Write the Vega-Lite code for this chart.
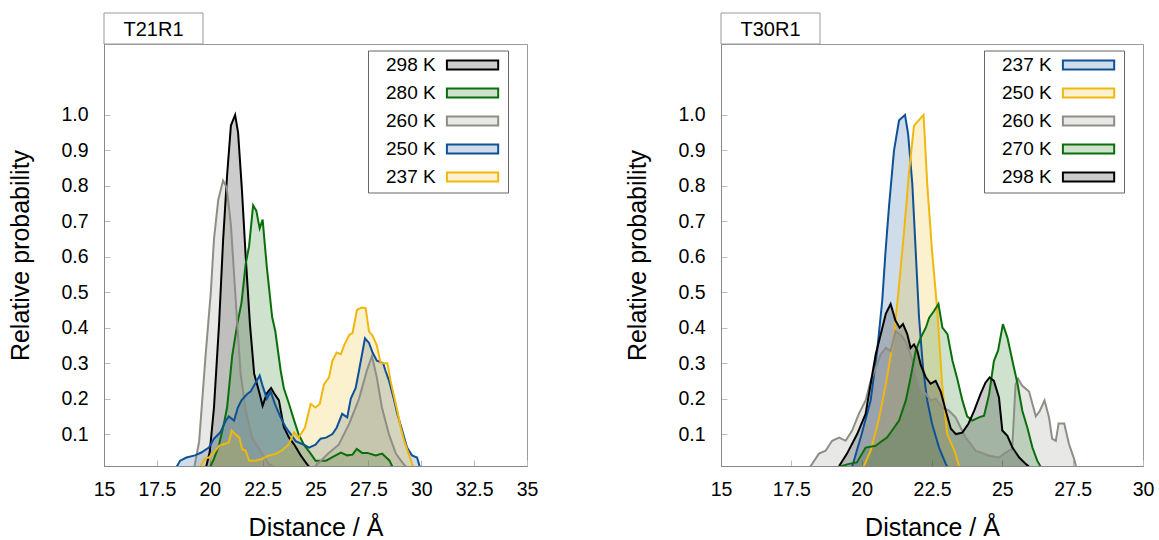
{
  "$schema": "https://vega.github.io/schema/vega-lite/v6.json",
  "background": "white",
  "padding": {"left": 8, "top": 12, "right": 5, "bottom": 5},
  "config": {
    "font": "Liberation Sans",
    "view": {"stroke": "#999999", "strokeWidth": 1},
    "axis": {"labelFontSize": 19.5, "titleFontSize": 25, "titleFontWeight": "normal", "labelColor": "#000000", "titleColor": "#000000", "domainColor": "#888888", "tickColor": "#bbbbbb", "tickSize": -6, "grid": false, "labelPadding": 22, "labelFlush": false},
    "axisX": {"labelPadding": 20, "titlePadding": 17},
    "axisY": {"titlePadding": 27},
    "text": {"font": "Liberation Sans"}
  },
  "datasets": {
    "left": [
      {"s":"298 K","x":19.8,"y":0},{"s":"298 K","x":20.0,"y":0.05},{"s":"298 K","x":20.2,"y":0.175},{"s":"298 K","x":20.44,"y":0.41},{"s":"298 K","x":20.63,"y":0.645},{"s":"298 K","x":20.82,"y":0.83},{"s":"298 K","x":21.0,"y":0.97},{"s":"298 K","x":21.2,"y":1.0},{"s":"298 K","x":21.34,"y":0.95},{"s":"298 K","x":21.52,"y":0.79},{"s":"298 K","x":21.7,"y":0.6},{"s":"298 K","x":21.9,"y":0.41},{"s":"298 K","x":22.1,"y":0.27},{"s":"298 K","x":22.33,"y":0.22},{"s":"298 K","x":22.5,"y":0.18},{"s":"298 K","x":22.7,"y":0.215},{"s":"298 K","x":22.9,"y":0.23},{"s":"298 K","x":23.04,"y":0.215},{"s":"298 K","x":23.27,"y":0.195},{"s":"298 K","x":23.5,"y":0.12},{"s":"298 K","x":23.75,"y":0.09},{"s":"298 K","x":24.0,"y":0.07},{"s":"298 K","x":24.3,"y":0.04},{"s":"298 K","x":24.6,"y":0.015},{"s":"298 K","x":24.8,"y":0},
      {"s":"280 K","x":19.96,"y":0},{"s":"280 K","x":20.2,"y":0.03},{"s":"280 K","x":20.44,"y":0.07},{"s":"280 K","x":20.67,"y":0.13},{"s":"280 K","x":20.82,"y":0.175},{"s":"280 K","x":21.06,"y":0.32},{"s":"280 K","x":21.3,"y":0.41},{"s":"280 K","x":21.5,"y":0.47},{"s":"280 K","x":21.7,"y":0.58},{"s":"280 K","x":21.86,"y":0.63},{"s":"280 K","x":22.05,"y":0.745},{"s":"280 K","x":22.2,"y":0.73},{"s":"280 K","x":22.36,"y":0.68},{"s":"280 K","x":22.5,"y":0.705},{"s":"280 K","x":22.7,"y":0.57},{"s":"280 K","x":22.95,"y":0.43},{"s":"280 K","x":23.1,"y":0.39},{"s":"280 K","x":23.35,"y":0.28},{"s":"280 K","x":23.5,"y":0.23},{"s":"280 K","x":23.75,"y":0.185},{"s":"280 K","x":23.98,"y":0.14},{"s":"280 K","x":24.2,"y":0.1},{"s":"280 K","x":24.45,"y":0.07},{"s":"280 K","x":24.77,"y":0.045},{"s":"280 K","x":25.0,"y":0.025},{"s":"280 K","x":25.5,"y":0.025},{"s":"280 K","x":25.8,"y":0.035},{"s":"280 K","x":26.2,"y":0.048},{"s":"280 K","x":26.5,"y":0.04},{"s":"280 K","x":26.75,"y":0.042},{"s":"280 K","x":26.95,"y":0.058},{"s":"280 K","x":27.2,"y":0.047},{"s":"280 K","x":27.45,"y":0.047},{"s":"280 K","x":27.85,"y":0.04},{"s":"280 K","x":28.15,"y":0.045},{"s":"280 K","x":28.5,"y":0.025},{"s":"280 K","x":28.7,"y":0},
      {"s":"260 K","x":19.25,"y":0},{"s":"260 K","x":19.5,"y":0.08},{"s":"260 K","x":19.8,"y":0.32},{"s":"260 K","x":20.05,"y":0.5},{"s":"260 K","x":20.2,"y":0.65},{"s":"260 K","x":20.4,"y":0.76},{"s":"260 K","x":20.63,"y":0.815},{"s":"260 K","x":20.8,"y":0.795},{"s":"260 K","x":21.0,"y":0.69},{"s":"260 K","x":21.15,"y":0.55},{"s":"260 K","x":21.3,"y":0.41},{"s":"260 K","x":21.46,"y":0.27},{"s":"260 K","x":21.7,"y":0.166},{"s":"260 K","x":22.0,"y":0.09},{"s":"260 K","x":22.47,"y":0.045},{"s":"260 K","x":22.8,"y":0.015},{"s":"260 K","x":23.3,"y":0},{"s":"260 K","x":24.8,"y":0},{"s":"260 K","x":25.0,"y":0.01},{"s":"260 K","x":25.6,"y":0.045},{"s":"260 K","x":26.1,"y":0.07},{"s":"260 K","x":26.6,"y":0.13},{"s":"260 K","x":27.06,"y":0.2},{"s":"260 K","x":27.43,"y":0.28},{"s":"260 K","x":27.67,"y":0.32},{"s":"260 K","x":27.9,"y":0.26},{"s":"260 K","x":28.14,"y":0.175},{"s":"260 K","x":28.47,"y":0.1},{"s":"260 K","x":28.8,"y":0.045},{"s":"260 K","x":29.1,"y":0.02},{"s":"260 K","x":29.4,"y":0},
      {"s":"250 K","x":18.36,"y":0},{"s":"250 K","x":18.6,"y":0.025},{"s":"250 K","x":18.9,"y":0.034},{"s":"250 K","x":19.3,"y":0.04},{"s":"250 K","x":19.6,"y":0.048},{"s":"250 K","x":19.96,"y":0.062},{"s":"250 K","x":20.2,"y":0.087},{"s":"250 K","x":20.5,"y":0.105},{"s":"250 K","x":20.75,"y":0.137},{"s":"250 K","x":20.9,"y":0.15},{"s":"250 K","x":21.15,"y":0.138},{"s":"250 K","x":21.33,"y":0.175},{"s":"250 K","x":21.5,"y":0.195},{"s":"250 K","x":21.77,"y":0.213},{"s":"250 K","x":21.93,"y":0.22},{"s":"250 K","x":22.17,"y":0.245},{"s":"250 K","x":22.36,"y":0.265},{"s":"250 K","x":22.5,"y":0.236},{"s":"250 K","x":22.7,"y":0.2},{"s":"250 K","x":22.88,"y":0.22},{"s":"250 K","x":23.08,"y":0.185},{"s":"250 K","x":23.35,"y":0.147},{"s":"250 K","x":23.6,"y":0.118},{"s":"250 K","x":23.83,"y":0.1},{"s":"250 K","x":24.06,"y":0.08},{"s":"250 K","x":24.45,"y":0.07},{"s":"250 K","x":24.7,"y":0.062},{"s":"250 K","x":25.0,"y":0.07},{"s":"250 K","x":25.24,"y":0.087},{"s":"250 K","x":25.5,"y":0.09},{"s":"250 K","x":25.8,"y":0.1},{"s":"250 K","x":26.0,"y":0.118},{"s":"250 K","x":26.26,"y":0.157},{"s":"250 K","x":26.5,"y":0.147},{"s":"250 K","x":26.67,"y":0.2},{"s":"250 K","x":26.9,"y":0.23},{"s":"250 K","x":27.06,"y":0.28},{"s":"250 K","x":27.2,"y":0.325},{"s":"250 K","x":27.34,"y":0.37},{"s":"250 K","x":27.53,"y":0.357},{"s":"250 K","x":27.7,"y":0.33},{"s":"250 K","x":27.9,"y":0.307},{"s":"250 K","x":28.2,"y":0.3},{"s":"250 K","x":28.3,"y":0.28},{"s":"250 K","x":28.48,"y":0.25},{"s":"250 K","x":28.7,"y":0.2},{"s":"250 K","x":28.87,"y":0.157},{"s":"250 K","x":29.1,"y":0.11},{"s":"250 K","x":29.33,"y":0.062},{"s":"250 K","x":29.56,"y":0.04},{"s":"250 K","x":29.8,"y":0.034},{"s":"250 K","x":29.97,"y":0},
      {"s":"237 K","x":19.5,"y":0},{"s":"237 K","x":19.73,"y":0.03},{"s":"237 K","x":19.96,"y":0.034},{"s":"237 K","x":20.2,"y":0.048},{"s":"237 K","x":20.44,"y":0.067},{"s":"237 K","x":20.67,"y":0.072},{"s":"237 K","x":20.9,"y":0.076},{"s":"237 K","x":21.04,"y":0.11},{"s":"237 K","x":21.2,"y":0.1},{"s":"237 K","x":21.4,"y":0.09},{"s":"237 K","x":21.53,"y":0.058},{"s":"237 K","x":21.7,"y":0.053},{"s":"237 K","x":21.86,"y":0.025},{"s":"237 K","x":22.17,"y":0.025},{"s":"237 K","x":22.47,"y":0.03},{"s":"237 K","x":22.8,"y":0.04},{"s":"237 K","x":23.1,"y":0.044},{"s":"237 K","x":23.4,"y":0.053},{"s":"237 K","x":23.75,"y":0.072},{"s":"237 K","x":23.98,"y":0.105},{"s":"237 K","x":24.2,"y":0.09},{"s":"237 K","x":24.5,"y":0.118},{"s":"237 K","x":24.77,"y":0.185},{"s":"237 K","x":25.0,"y":0.175},{"s":"237 K","x":25.2,"y":0.185},{"s":"237 K","x":25.4,"y":0.24},{"s":"237 K","x":25.64,"y":0.26},{"s":"237 K","x":25.8,"y":0.307},{"s":"237 K","x":26.0,"y":0.33},{"s":"237 K","x":26.2,"y":0.325},{"s":"237 K","x":26.35,"y":0.35},{"s":"237 K","x":26.6,"y":0.38},{"s":"237 K","x":26.75,"y":0.385},{"s":"237 K","x":26.96,"y":0.45},{"s":"237 K","x":27.18,"y":0.457},{"s":"237 K","x":27.37,"y":0.455},{"s":"237 K","x":27.53,"y":0.39},{"s":"237 K","x":27.7,"y":0.377},{"s":"237 K","x":27.9,"y":0.35},{"s":"237 K","x":28.08,"y":0.3},{"s":"237 K","x":28.4,"y":0.3},{"s":"237 K","x":28.55,"y":0.25},{"s":"237 K","x":28.7,"y":0.21},{"s":"237 K","x":28.87,"y":0.165},{"s":"237 K","x":29.03,"y":0.118},{"s":"237 K","x":29.2,"y":0.08},{"s":"237 K","x":29.4,"y":0.045},{"s":"237 K","x":29.66,"y":0}
    ],
    "right": [
      {"s":"237 K","x":19.5,"y":0},{"s":"237 K","x":19.67,"y":0.01},{"s":"237 K","x":20.0,"y":0.1},{"s":"237 K","x":20.32,"y":0.195},{"s":"237 K","x":20.55,"y":0.335},{"s":"237 K","x":20.73,"y":0.475},{"s":"237 K","x":20.85,"y":0.617},{"s":"237 K","x":20.97,"y":0.74},{"s":"237 K","x":21.15,"y":0.9},{"s":"237 K","x":21.33,"y":0.985},{"s":"237 K","x":21.54,"y":1.0},{"s":"237 K","x":21.65,"y":0.947},{"s":"237 K","x":21.8,"y":0.806},{"s":"237 K","x":21.92,"y":0.617},{"s":"237 K","x":22.04,"y":0.428},{"s":"237 K","x":22.18,"y":0.287},{"s":"237 K","x":22.33,"y":0.195},{"s":"237 K","x":22.5,"y":0.13},{"s":"237 K","x":22.75,"y":0.062},{"s":"237 K","x":22.99,"y":0.016},{"s":"237 K","x":23.1,"y":0},
      {"s":"250 K","x":19.9,"y":0},{"s":"250 K","x":20.08,"y":0.01},{"s":"250 K","x":20.32,"y":0.053},{"s":"250 K","x":20.6,"y":0.138},{"s":"250 K","x":20.86,"y":0.24},{"s":"250 K","x":21.15,"y":0.38},{"s":"250 K","x":21.33,"y":0.52},{"s":"250 K","x":21.5,"y":0.665},{"s":"250 K","x":21.68,"y":0.835},{"s":"250 K","x":21.86,"y":0.97},{"s":"250 K","x":22.2,"y":1.0},{"s":"250 K","x":22.33,"y":0.806},{"s":"250 K","x":22.5,"y":0.617},{"s":"250 K","x":22.68,"y":0.457},{"s":"250 K","x":22.86,"y":0.24},{"s":"250 K","x":23.04,"y":0.1},{"s":"250 K","x":23.3,"y":0.053},{"s":"250 K","x":23.5,"y":0},
      {"s":"260 K","x":18.0,"y":0},{"s":"260 K","x":18.19,"y":0.01},{"s":"260 K","x":18.48,"y":0.045},{"s":"260 K","x":18.72,"y":0.053},{"s":"260 K","x":18.95,"y":0.081},{"s":"260 K","x":19.2,"y":0.09},{"s":"260 K","x":19.43,"y":0.081},{"s":"260 K","x":19.66,"y":0.11},{"s":"260 K","x":19.9,"y":0.157},{"s":"260 K","x":20.14,"y":0.195},{"s":"260 K","x":20.32,"y":0.25},{"s":"260 K","x":20.5,"y":0.287},{"s":"260 K","x":20.68,"y":0.325},{"s":"260 K","x":20.86,"y":0.343},{"s":"260 K","x":21.03,"y":0.334},{"s":"260 K","x":21.2,"y":0.39},{"s":"260 K","x":21.39,"y":0.38},{"s":"260 K","x":21.57,"y":0.36},{"s":"260 K","x":21.74,"y":0.325},{"s":"260 K","x":21.92,"y":0.27},{"s":"260 K","x":22.1,"y":0.223},{"s":"260 K","x":22.28,"y":0.214},{"s":"260 K","x":22.45,"y":0.195},{"s":"260 K","x":22.63,"y":0.2},{"s":"260 K","x":22.86,"y":0.175},{"s":"260 K","x":23.1,"y":0.166},{"s":"260 K","x":23.34,"y":0.147},{"s":"260 K","x":23.52,"y":0.118},{"s":"260 K","x":23.7,"y":0.09},{"s":"260 K","x":23.88,"y":0.072},{"s":"260 K","x":24.05,"y":0.053},{"s":"260 K","x":24.23,"y":0.048},{"s":"260 K","x":24.53,"y":0.039},{"s":"260 K","x":24.88,"y":0.034},{"s":"260 K","x":25.12,"y":0.048},{"s":"260 K","x":25.35,"y":0.058},{"s":"260 K","x":25.47,"y":0.24},{"s":"260 K","x":25.56,"y":0.256},{"s":"260 K","x":25.7,"y":0.237},{"s":"260 K","x":25.95,"y":0.22},{"s":"260 K","x":26.19,"y":0.15},{"s":"260 K","x":26.33,"y":0.165},{"s":"260 K","x":26.5,"y":0.195},{"s":"260 K","x":26.66,"y":0.147},{"s":"260 K","x":26.77,"y":0.087},{"s":"260 K","x":26.9,"y":0.081},{"s":"260 K","x":27.0,"y":0.13},{"s":"260 K","x":27.2,"y":0.13},{"s":"260 K","x":27.37,"y":0.072},{"s":"260 K","x":27.55,"y":0.03},{"s":"260 K","x":27.65,"y":0},
      {"s":"270 K","x":19.1,"y":0},{"s":"270 K","x":19.3,"y":0.01},{"s":"270 K","x":19.55,"y":0.016},{"s":"270 K","x":19.83,"y":0.02},{"s":"270 K","x":20.14,"y":0.062},{"s":"270 K","x":20.5,"y":0.067},{"s":"270 K","x":20.73,"y":0.081},{"s":"270 K","x":20.9,"y":0.09},{"s":"270 K","x":21.08,"y":0.11},{"s":"270 K","x":21.33,"y":0.138},{"s":"270 K","x":21.57,"y":0.195},{"s":"270 K","x":21.74,"y":0.26},{"s":"270 K","x":21.92,"y":0.335},{"s":"270 K","x":22.1,"y":0.372},{"s":"270 K","x":22.28,"y":0.4},{"s":"270 K","x":22.4,"y":0.428},{"s":"270 K","x":22.57,"y":0.447},{"s":"270 K","x":22.73,"y":0.467},{"s":"270 K","x":22.87,"y":0.4},{"s":"270 K","x":23.05,"y":0.382},{"s":"270 K","x":23.23,"y":0.306},{"s":"270 K","x":23.4,"y":0.255},{"s":"270 K","x":23.58,"y":0.195},{"s":"270 K","x":23.75,"y":0.15},{"s":"270 K","x":23.93,"y":0.138},{"s":"270 K","x":24.17,"y":0.147},{"s":"270 K","x":24.35,"y":0.152},{"s":"270 K","x":24.53,"y":0.212},{"s":"270 K","x":24.7,"y":0.306},{"s":"270 K","x":24.85,"y":0.336},{"s":"270 K","x":25.02,"y":0.41},{"s":"270 K","x":25.18,"y":0.372},{"s":"270 K","x":25.36,"y":0.306},{"s":"270 K","x":25.54,"y":0.242},{"s":"270 K","x":25.71,"y":0.166},{"s":"270 K","x":25.89,"y":0.118},{"s":"270 K","x":26.07,"y":0.062},{"s":"270 K","x":26.24,"y":0.025},{"s":"270 K","x":26.42,"y":0},
      {"s":"298 K","x":19.1,"y":0},{"s":"298 K","x":19.2,"y":0.01},{"s":"298 K","x":19.48,"y":0.045},{"s":"298 K","x":19.84,"y":0.1},{"s":"298 K","x":20.14,"y":0.157},{"s":"298 K","x":20.32,"y":0.242},{"s":"298 K","x":20.5,"y":0.325},{"s":"298 K","x":20.68,"y":0.382},{"s":"298 K","x":20.86,"y":0.44},{"s":"298 K","x":21.03,"y":0.467},{"s":"298 K","x":21.2,"y":0.42},{"s":"298 K","x":21.35,"y":0.4},{"s":"298 K","x":21.47,"y":0.41},{"s":"298 K","x":21.62,"y":0.382},{"s":"298 K","x":21.74,"y":0.343},{"s":"298 K","x":21.86,"y":0.353},{"s":"298 K","x":21.98,"y":0.335},{"s":"298 K","x":22.1,"y":0.295},{"s":"298 K","x":22.28,"y":0.26},{"s":"298 K","x":22.45,"y":0.242},{"s":"298 K","x":22.63,"y":0.25},{"s":"298 K","x":22.81,"y":0.22},{"s":"298 K","x":22.99,"y":0.166},{"s":"298 K","x":23.17,"y":0.115},{"s":"298 K","x":23.35,"y":0.1},{"s":"298 K","x":23.58,"y":0.104},{"s":"298 K","x":23.8,"y":0.13},{"s":"298 K","x":24.0,"y":0.166},{"s":"298 K","x":24.23,"y":0.214},{"s":"298 K","x":24.4,"y":0.245},{"s":"298 K","x":24.55,"y":0.26},{"s":"298 K","x":24.7,"y":0.25},{"s":"298 K","x":24.88,"y":0.203},{"s":"298 K","x":25.0,"y":0.11},{"s":"298 K","x":25.18,"y":0.095},{"s":"298 K","x":25.36,"y":0.062},{"s":"298 K","x":25.6,"y":0.034},{"s":"298 K","x":25.83,"y":0.016},{"s":"298 K","x":26.07,"y":0}
    ]
  },
  "spacing": 86,
  "resolve": {"scale": {"color": "independent"}, "legend": {"color": "independent"}},
  "hconcat": [
    {
      "bounds": "flush",
      "spacing": 0,
      "vconcat": [
        {
          "width": 99, "height": 31,
          "data": {"values": [{"t": "T21R1"}]},
          "layer": [
            {"mark": {"type": "rect", "fill": "#ffffff", "stroke": "#999999", "strokeWidth": 1}, "encoding": {}},
            {"mark": {"type": "text", "fontSize": 20, "color": "#000000", "dy": 1}, "encoding": {"text": {"field": "t"}}}
          ]
        },
        {
          "width": 423, "height": 422,
          "data": {"name": "left"},
          "encoding": {
            "x": {"field": "x", "type": "quantitative", "scale": {"domain": [15, 35], "nice": false, "zero": false}, "axis": {"values": [15, 17.5, 20, 22.5, 25, 27.5, 30, 32.5, 35], "format": ".3~g", "title": "Distance / Å"}},
            "y": {"field": "y", "type": "quantitative", "stack": null, "scale": {"domain": [0.01, 1.2], "nice": false, "zero": false}, "axis": {"values": [0.1, 0.2, 0.3, 0.4, 0.5, 0.6, 0.7, 0.8, 0.9, 1.0], "format": ".1f", "title": "Relative probability"}},
            "color": {"field": "s", "type": "nominal",
              "scale": {"domain": ["298 K", "280 K", "260 K", "250 K", "237 K"], "range": ["#000000", "#0a6e0a", "#8e8e86", "#0f5198", "#f0b70f"]},
              "legend": {"title": null, "orient": "none", "legendX": 264, "legendY": 37.5, "symbolType": "M-2.2,0L-2.2,0M64.4,-4.6H115.7V4.6H64.4Z", "symbolSize": 4, "symbolStrokeWidth": 2, "labelFontSize": 19, "labelFont": "Liberation Sans", "labelColor": "#000000", "labelOffset": -6, "labelLimit": 300, "padding": 5, "rowPadding": 8, "strokeColor": "#666666", "fillColor": "#ffffff", "cornerRadius": 0,
                "encode": {"symbols": {"update": {"fillOpacity": {"value": 0.2}, "strokeOpacity": {"value": 1}, "strokeWidth": {"value": 2}}}}}
            }
          },
          "layer": [
            {"mark": {"type": "area", "fillOpacity": 0.2, "clip": true}},
            {"mark": {"type": "line", "strokeWidth": 2, "clip": true}}
          ]
        }
      ]
    },
    {
      "bounds": "flush",
      "spacing": 0,
      "vconcat": [
        {
          "width": 99, "height": 31,
          "data": {"values": [{"t": "T30R1"}]},
          "layer": [
            {"mark": {"type": "rect", "fill": "#ffffff", "stroke": "#999999", "strokeWidth": 1}, "encoding": {}},
            {"mark": {"type": "text", "fontSize": 20, "color": "#000000", "dy": 1}, "encoding": {"text": {"field": "t"}}}
          ]
        },
        {
          "width": 422, "height": 422,
          "data": {"name": "right"},
          "encoding": {
            "x": {"field": "x", "type": "quantitative", "scale": {"domain": [15, 30], "nice": false, "zero": false}, "axis": {"values": [15, 17.5, 20, 22.5, 25, 27.5, 30], "format": ".3~g", "title": "Distance / Å"}},
            "y": {"field": "y", "type": "quantitative", "stack": null, "scale": {"domain": [0.01, 1.2], "nice": false, "zero": false}, "axis": {"values": [0.1, 0.2, 0.3, 0.4, 0.5, 0.6, 0.7, 0.8, 0.9, 1.0], "format": ".1f", "title": "Relative probability"}},
            "color": {"field": "s", "type": "nominal",
              "scale": {"domain": ["237 K", "250 K", "260 K", "270 K", "298 K"], "range": ["#0f5198", "#f0b70f", "#8e8e86", "#0a6e0a", "#000000"]},
              "legend": {"title": null, "orient": "none", "legendX": 263, "legendY": 37.5, "symbolType": "M-2.2,0L-2.2,0M64.4,-4.6H115.7V4.6H64.4Z", "symbolSize": 4, "symbolStrokeWidth": 2, "labelFontSize": 19, "labelFont": "Liberation Sans", "labelColor": "#000000", "labelOffset": -6, "labelLimit": 300, "padding": 5, "rowPadding": 8, "strokeColor": "#666666", "fillColor": "#ffffff", "cornerRadius": 0,
                "encode": {"symbols": {"update": {"fillOpacity": {"value": 0.2}, "strokeOpacity": {"value": 1}, "strokeWidth": {"value": 2}}}}}
            }
          },
          "layer": [
            {"mark": {"type": "area", "fillOpacity": 0.2, "clip": true}},
            {"mark": {"type": "line", "strokeWidth": 2, "clip": true}}
          ]
        }
      ]
    }
  ]
}
